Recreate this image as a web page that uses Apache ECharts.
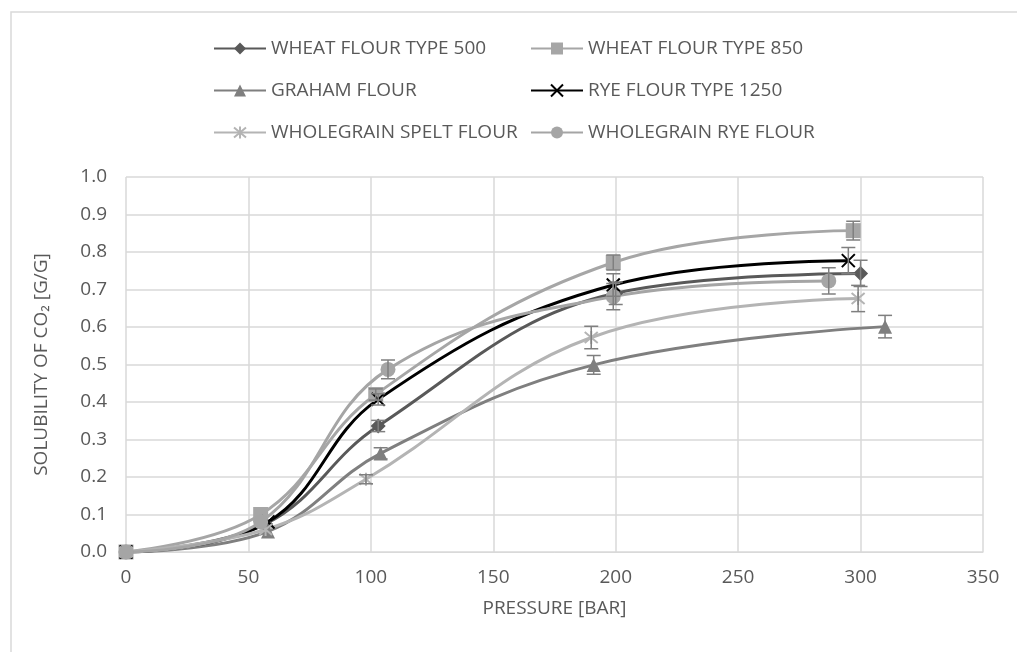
<!DOCTYPE html>
<html>
<head>
<meta charset="utf-8">
<script src="https://cdn.jsdelivr.net/npm/echarts@6/dist/echarts.min.js"></script>
<style>html,body{margin:0;padding:0;background:#fff}#c{width:1017px;height:652px}</style>
</head>
<body>
<div id="c"></div>
<script>
var seriesNames = ['WHEAT FLOUR TYPE 500','WHEAT FLOUR TYPE 850','GRAHAM FLOUR','RYE FLOUR TYPE 1250','WHOLEGRAIN SPELT FLOUR','WHOLEGRAIN RYE FLOUR'];
var wheat500 = [[0,0],[57,0.075],[103,0.336],[200,0.69],[300,0.743]];
var wheat850 = [[0,0],[55,0.10],[102,0.42],[199,0.772],[297,0.857]];
var graham   = [[0,0],[58,0.055],[104,0.263],[191,0.499],[310,0.601]];
var rye1250  = [[0,0],[58,0.08],[103,0.407],[199,0.712],[295,0.777]];
var spelt    = [[0,0],[57,0.06],[98,0.194],[190,0.572],[299,0.676]];
var wgRye    = [[0,0],[55,0.08],[107,0.487],[199,0.681],[287,0.723]];
// error half-widths per point
var errWheat500 = [0,0,0.015,0.03,0.035];
var errWheat850 = [0,0,0.015,0.02,0.025];
var errGraham   = [0,0,0.015,0.025,0.03];
var errRye1250  = [0,0,0.015,0.03,0.035];
var errSpelt    = [0,0,0.012,0.03,0.035];
var errWgRye    = [0,0,0.025,0.035,0.035];
var xTicks = [0,50,100,150,200,250,300,350];
var yTicks = [0,0.1,0.2,0.3,0.4,0.5,0.6,0.7,0.8,0.9,1.0];

var allData = [wheat500,wheat850,graham,rye1250,spelt,wgRye];
var allErr = [errWheat500,errWheat850,errGraham,errRye1250,errSpelt,errWgRye];
var colors = ['#595959','#a6a6a6','#7f7f7f','#000000','#b4b4b4','#a5a5a5'];
var symbols = ['diamond','rect','triangle','path://M0,0L10,10M10,0L0,10','path://M0,0L10,10M10,0L0,10M5,-1L5,11','circle'];
var sizes = [15,15,14,13,13,15];

var series = [];
allData.forEach(function(d,i){
  var isStroke = (i===3||i===4);
  series.push({
    name: seriesNames[i], type:'line', data:d, smooth:0.4,
    symbol: symbols[i], symbolSize: sizes[i], showAllSymbol:true,
    lineStyle:{color:colors[i], width:3},
    itemStyle: isStroke ? {color:'rgba(0,0,0,0)', borderColor:colors[i], borderWidth:2} : {color:colors[i]},
    z: 3
  });
});
allData.forEach(function(d,i){
  var ed = [];
  d.forEach(function(p,j){ if(allErr[i][j]>0) ed.push([p[0],p[1],allErr[i][j]]); });
  series.push({
    type:'custom', name: seriesNames[i]+' err', data: ed, z: 4, silent:true,
    renderItem: function(params, api){
      var x = api.value(0), y = api.value(1), e = api.value(2);
      var top = api.coord([x,y+e]), bot = api.coord([x,y-e]);
      var c = 7;
      var st = {stroke:'#7f7f7f', lineWidth:1.5};
      return {type:'group', children:[
        {type:'line', shape:{x1:top[0],y1:top[1],x2:bot[0],y2:bot[1]}, style:st},
        {type:'line', shape:{x1:top[0]-c,y1:top[1],x2:top[0]+c,y2:top[1]}, style:st},
        {type:'line', shape:{x1:bot[0]-c,y1:bot[1],x2:bot[0]+c,y2:bot[1]}, style:st}
      ]};
    }
  });
});

var FONT = 'Open Sans';
var FS = 19;
var legendPos = [[213,39],[530,39],[213,81],[530,81],[213,123],[530,123]];
var legends = seriesNames.map(function(n,i){
  return {data:[n], left:legendPos[i][0], top:legendPos[i][1], padding:0, itemWidth:52, itemHeight:15, itemGap:5,
    textStyle:{color:'#595959', fontSize:FS, fontFamily:FONT}};
});

var chart = echarts.init(document.getElementById('c'));
chart.setOption({
  backgroundColor:'#fff',
  animation:false,
  legend: legends,
  grid:{left:126, right:34, top:177, bottom:100},
  xAxis:{type:'value', min:xTicks[0], max:xTicks[xTicks.length-1], interval:50,
    name:'PRESSURE [BAR]', nameLocation:'middle', nameGap:47,
    nameTextStyle:{color:'#595959', fontSize:FS, fontFamily:FONT},
    axisLine:{show:true, lineStyle:{color:'#d9d9d9'}}, axisTick:{show:false},
    axisLabel:{color:'#595959', fontSize:FS, fontFamily:FONT, margin:16},
    splitLine:{show:true, lineStyle:{color:'#d9d9d9', width:1.5}}},
  yAxis:{type:'value', min:yTicks[0], max:yTicks[yTicks.length-1], interval:0.1,
    name:'SOLUBILITY OF CO\u2082 [G/G]', nameLocation:'middle', nameGap:75, nameRotate:90,
    nameTextStyle:{color:'#595959', fontSize:FS, fontFamily:FONT},
    axisLine:{show:false}, axisTick:{show:false},
    axisLabel:{color:'#595959', fontSize:FS, fontFamily:FONT, margin:19, formatter:function(v){return v.toFixed(1);}},
    splitLine:{show:true, lineStyle:{color:'#d9d9d9', width:1.5}}},
  graphic:[{type:'rect', shape:{x:11, y:12, width:1100, height:800}, style:{fill:'none', stroke:'#d9d9d9', lineWidth:1.5}, silent:true}],
  series: series
});
</script>
</body>
</html>
